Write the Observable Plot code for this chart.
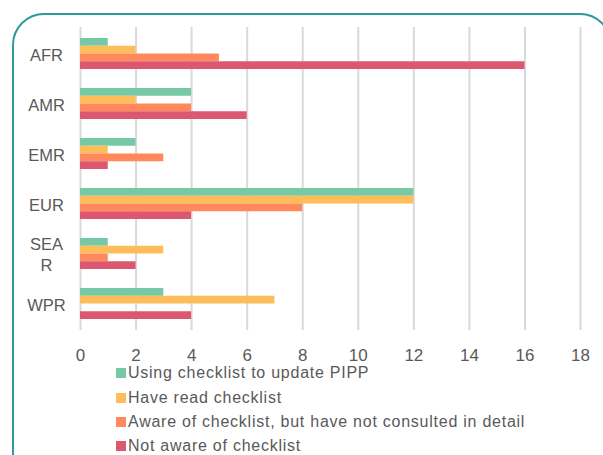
<!DOCTYPE html>
<html>
<head>
<meta charset="utf-8">
<script src="https://cdn.jsdelivr.net/npm/d3@7"></script>
<script src="https://cdn.jsdelivr.net/npm/@observablehq/plot@0.6"></script>
<style>
  html, body { margin: 0; padding: 0; background: #fff; }
  body { width: 603px; height: 455px; overflow: hidden; position: relative;
         font-family: "Liberation Sans", Arial, sans-serif; }
  #frame { position: absolute; left: 12px; top: 13px; width: 600px; height: 520px;
           border: 2.5px solid #2f9a9b; border-radius: 32px; box-sizing: border-box; }
  #chart { position: absolute; left: 0; top: 0; }
  #legend { position: absolute; left: 116px; top: 361px; color: #595959; font-size: 16px; letter-spacing: 0.75px; }
  .row { display: flex; align-items: center; height: 24.4px; white-space: nowrap; }
  .sw { width: 10px; height: 10px; margin-right: 2px; flex: none; }
</style>
</head>
<body>
<div id="frame"></div>
<div id="chart"></div>
<div id="legend"></div>
<script>
// ---- data ----
const regions = ["AFR", "AMR", "EMR", "EUR", "SEAR", "WPR"];
const regionLabels = ["AFR", "AMR", "EMR", "EUR", "SEA\nR", "WPR"];
const seriesNames = [
  "Using checklist to update PIPP",
  "Have read checklist",
  "Aware of checklist, but have not consulted in detail",
  "Not aware of checklist"
];
const usingChecklist = [1, 4, 2, 12, 1, 3];
const haveRead       = [2, 2, 1, 12, 3, 7];
const awareNotDetail = [5, 4, 3, 8, 1, 0];
const notAware       = [16, 6, 1, 4, 2, 4];
const xTicks = [0, 2, 4, 6, 8, 10, 12, 14, 16, 18];
const colors = ["#76c9a4", "#ffbd5a", "#ff895c", "#dc5871"];

const seriesValues = [usingChecklist, haveRead, awareNotDetail, notAware];

// ---- layout ----
const W = 603, H = 370, mT = 27, mB = 40, mL = 80, mR = 23;
const padIn = 0.386;
const step = (H - mT - mB) / regions.length;
const bw = step * (1 - padIn);
const q = bw / 4;

const labelOf = new Map(regions.map((r, i) => [r, regionLabels[i]]));

const barMarks = seriesValues.map((vals, i) =>
  Plot.barX(regions.map((r, j) => ({region: r, value: vals[j]})), {
    y: "region",
    x: "value",
    fill: colors[i],
    insetTop: i * q,
    insetBottom: (3 - i) * q
  })
);

const chart = Plot.plot({
  width: W,
  height: H,
  marginTop: mT,
  marginBottom: mB,
  marginLeft: mL,
  marginRight: mR,
  style: {fontFamily: '"Liberation Sans", Arial, sans-serif', color: "#595959", background: "transparent", overflow: "visible"},
  x: {domain: [0, 18], axis: null, label: null},
  y: {domain: regions, paddingInner: padIn, paddingOuter: padIn / 2, axis: null, label: null},
  marks: [
    Plot.gridX(xTicks, {stroke: "#d9d9d9", strokeOpacity: 1, strokeWidth: 2}),
    ...barMarks,
    Plot.axisX({ticks: xTicks, tickSize: 0, tickPadding: 18, fontSize: 17, label: null, tickFormat: d => String(d)}),
    Plot.axisY({tickSize: 0, tickPadding: 34, textAnchor: "middle", fontSize: 16.5, lineHeight: 1.27, label: null,
                tickFormat: d => labelOf.get(d)})
  ]
});
document.getElementById("chart").appendChild(chart);

// ---- legend ----
const legend = document.getElementById("legend");
seriesNames.forEach((name, i) => {
  const row = document.createElement("div");
  row.className = "row";
  const sw = document.createElement("span");
  sw.className = "sw";
  sw.style.background = colors[i];
  const t = document.createElement("span");
  t.textContent = name;
  row.appendChild(sw);
  row.appendChild(t);
  legend.appendChild(row);
});
</script>
</body>
</html>
